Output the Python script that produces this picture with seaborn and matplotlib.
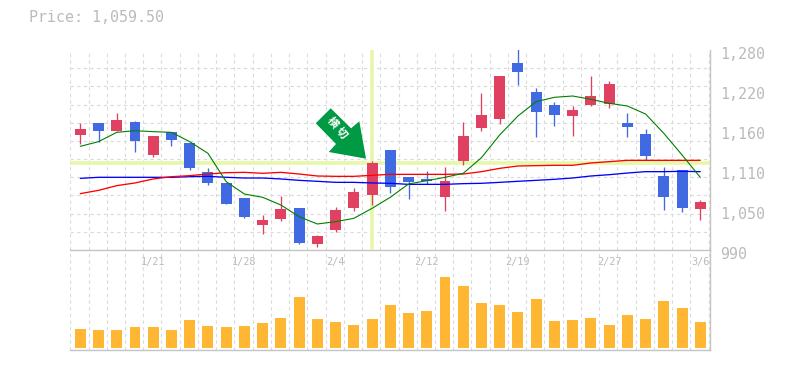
import numpy as np
import pandas as pd
import matplotlib
matplotlib.use("Agg")
import matplotlib.pyplot as plt
from matplotlib.patches import Polygon
from matplotlib.transforms import ScaledTranslation, Affine2D
import seaborn as sns

title = "Price: 1,059.50"
open_ = [1156.8, 1174.2, 1162.6, 1175.6, 1127.8, 1161.1, 1145.2, 1103.1, 1087.2, 1065.4, 1026.2, 1035.0,
         1050.9, 998.7, 1019.0, 1050.9, 1069.8, 1135.0, 1095.9, 1092.9, 1066.9, 1119.1, 1166.9, 1180.0,
         1261.2, 1219.1, 1200.3, 1184.3, 1200.3, 1201.7, 1174.2, 1158.2, 1097.3, 1106.0, 1049.4]
close = [1165.5, 1162.6, 1178.5, 1148.1, 1155.3, 1149.5, 1108.9, 1087.2, 1056.7, 1037.9, 1033.5, 1049.4,
         1000.2, 1010.3, 1048.0, 1074.1, 1116.2, 1081.4, 1088.6, 1090.0, 1090.0, 1155.3, 1185.8, 1242.3,
         1248.1, 1190.1, 1185.8, 1193.0, 1213.3, 1230.7, 1168.4, 1126.3, 1066.9, 1050.9, 1059.5]
high = [1174.2, 1174.2, 1188.7, 1177.1, 1155.3, 1161.1, 1145.2, 1108.9, 1087.2, 1065.4, 1040.8, 1068.3,
        1050.9, 1011.8, 1052.4, 1079.9, 1119.1, 1135.0, 1095.9, 1104.6, 1110.3, 1175.6, 1217.7, 1242.3,
        1290.0, 1224.9, 1204.6, 1198.8, 1242.3, 1235.1, 1188.7, 1165.5, 1110.3, 1106.0, 1062.5]
low = [1143.7, 1146.6, 1162.6, 1132.1, 1124.9, 1140.8, 1106.0, 1084.3, 1056.7, 1036.4, 1013.2, 1032.1,
       998.7, 994.4, 1016.1, 1046.5, 1055.3, 1072.7, 1064.0, 1085.7, 1046.5, 1113.3, 1162.6, 1172.7,
       1229.3, 1153.9, 1169.8, 1155.3, 1198.8, 1195.9, 1153.9, 1120.5, 1048.0, 1045.1, 1033.5]
ma_short = [1140.3, 1147.1, 1160.6, 1163.0, 1161.6, 1160.6, 1147.1, 1130.2, 1089.1, 1071.2, 1066.4, 1055.3,
            1038.3, 1027.7, 1031.1, 1035.9, 1050.4, 1066.4, 1085.7, 1090.5, 1095.4, 1101.2, 1123.9, 1156.8,
            1184.3, 1205.1, 1211.4, 1213.3, 1208.5, 1202.7, 1198.8, 1187.2, 1159.2, 1127.8, 1095.4]
ma_mid = [1071.7, 1076.5, 1083.3, 1087.2, 1093.0, 1096.3, 1097.8, 1100.2, 1102.1, 1102.6, 1101.2, 1102.6,
          1100.2, 1097.3, 1096.8, 1096.8, 1098.3, 1099.7, 1099.7, 1099.7, 1099.7, 1100.2, 1103.6, 1108.4,
          1111.8, 1112.3, 1112.8, 1112.8, 1116.2, 1118.1, 1120.0, 1120.0, 1120.0, 1120.0, 1120.0]
ma_long = [1093.9, 1095.4, 1095.4, 1095.4, 1095.4, 1095.4, 1096.3, 1096.8, 1095.4, 1094.4, 1094.4, 1093.0,
           1091.0, 1089.6, 1088.1, 1088.1, 1087.2, 1086.7, 1085.2, 1085.2, 1085.2, 1086.2, 1086.7, 1088.1,
           1089.6, 1091.0, 1092.5, 1094.4, 1097.3, 1099.2, 1101.6, 1103.6, 1103.6, 1104.1, 1103.6]
volume = [19, 18, 18, 21, 21, 18, 28, 22, 21, 22, 25, 30, 51, 29, 26, 23, 29, 43,
          35, 37, 71, 62, 45, 43, 36, 49, 27, 28, 30, 23, 33, 29, 47, 40, 26]
price_tick_labels = ["1,280", "1,220", "1,160", "1,110", "1,050", "990"]
date_positions = [4, 9, 14, 19, 24, 29, 34]
date_labels = ["1/21", "1/28", "2/4", "2/12", "2/19", "2/27", "3/6"]
marked_index = 16
marked_price = 1115.7
marker_label = "横 切"

RED, BLUE, ORANGE = "#E04160", "#4169E1", "#FFB733"
GREY, SPINE, GRID, CROSS, ARROW = "#BBBBBB", "#C4C4C4", "#DADADA", "#E6F7A8", "#009944"

sns.set_theme(style="white")
plt.rcParams["font.family"] = ["DejaVu Sans Mono", "Noto Sans CJK JP"]

W, H = 785, 370
fig = plt.figure(figsize=(W / 100, H / 100), dpi=100, facecolor="white")
left, right = 70.3, 710.3
ax = fig.add_axes([left / W, (H - 250) / H, (right - left) / W, 200 / H])
axv = fig.add_axes([left / W, (H - 350) / H, (right - left) / W, 100 / H])

df = pd.DataFrame({"i": np.arange(len(close)), "open": open_, "close": close, "high": high, "low": low,
                   "short": ma_short, "mid": ma_mid, "long": ma_long, "vol": volume})
xlim = (-0.548, 34.55)
edges = np.arange(xlim[0], xlim[1] + 0.01, 1.0)
DASH = (0, (3, 3))

for a in (ax, axv):
    a.set_xlim(*xlim)
    a.set_xticks(edges, minor=True)
    a.grid(True, which="minor", axis="x", color=GRID, lw=0.8, ls=DASH)
    a.set_axisbelow(True)
    a.spines["left"].set_visible(False)
    a.spines["top"].set_visible(False)
    for s in ("right", "bottom"):
        a.spines[s].set_color(SPINE)
        a.spines[s].set_linewidth(1.0)

ax.set_ylim(990, 1280)
ax.set_yticks(np.linspace(990, 1280, 12), minor=True)
ax.grid(True, which="minor", axis="y", color=GRID, lw=0.8, ls=DASH)
ax.set_yticks(np.linspace(1280, 990, 6))
ax.set_yticklabels(price_tick_labels, color=GREY, fontsize=10.8)
ax.yaxis.tick_right()
ax.tick_params(axis="y", which="both", length=0, pad=7)
ax.tick_params(axis="x", which="both", length=0)
for lab in ax.get_yticklabels():
    lab.set_transform(lab.get_transform() + ScaledTranslation(0, -3 / 100, fig.dpi_scale_trans))
ax.set_xticks(date_positions)
ax.set_xticklabels(date_labels, color=GREY, fontsize=7.4)
ax.tick_params(axis="x", pad=5)

ax.axhline(marked_price, color=CROSS, lw=2.6, zorder=1.5)
ax.plot([marked_index, marked_index], [990 + 2.5, 1280], color=CROSS, lw=2.6, zorder=1.5)

colors = [RED if c >= o else BLUE for o, c in zip(open_, close)]
ax.vlines(df["i"], df["low"], df["high"], colors=colors, lw=0.95, zorder=3)
ax.bar(df["i"], np.abs(df["close"] - df["open"]), bottom=np.minimum(df["open"], df["close"]),
       width=0.6, color=colors, linewidth=0, zorder=3)

for col, c, lw in (("long", "#0000FF", 0.95), ("mid", "#FF0000", 0.95), ("short", "#007F00", 0.8)):
    sns.lineplot(data=df, x="i", y=col, ax=ax, color=c, lw=lw, zorder=4, legend=False, errorbar=None)
ax.set_xlabel("")
ax.set_ylabel("")
ax.set_xlim(*xlim)
ax.set_ylim(990, 1280)

# marker arrow: outline given in pixels relative to its tip, anchored on the chart
arrow_dx = [0, -6.7, -15, -35.3, -50.3, -30, -37.3]
arrow_dy = [0, -37.4, -30.4, -50.4, -35.4, -14.7, -6.7]
tip = ax.transData.transform((15.67, 1122.4))
arrow_tf = Affine2D().scale(1, -1).translate(*tip)
ax.add_patch(Polygon(np.column_stack([arrow_dx, arrow_dy]), closed=True, facecolor=ARROW,
                     edgecolor="none", transform=arrow_tf, zorder=5, clip_on=False))
ax.text(14.13, 1167, marker_label, color="white", fontsize=8, fontweight="bold", rotation=-50,
        ha="center", va="center", zorder=6, family=["Noto Sans CJK JP", "DejaVu Sans"],
        rotation_mode="anchor")

sns.barplot(data=df, x="i", y="vol", ax=axv, native_scale=True, color=ORANGE, width=0.6,
            saturation=1, linewidth=0, zorder=3, errorbar=None)
axv.set_xlim(*xlim)
axv.set_ylim(-2, 98)
axv.set_xlabel("")
axv.set_ylabel("")
axv.set_xticks([])
axv.set_yticks([])
axv.patch.set_alpha(0)
axv.set_xticks(edges, minor=True)
axv.tick_params(which="both", length=0, labelbottom=False)

fig.text(29 / W, 1 - 18 / H, title, color=GREY, fontsize=10.8, ha="left", va="center")

fig.savefig("out.png", dpi=100)
